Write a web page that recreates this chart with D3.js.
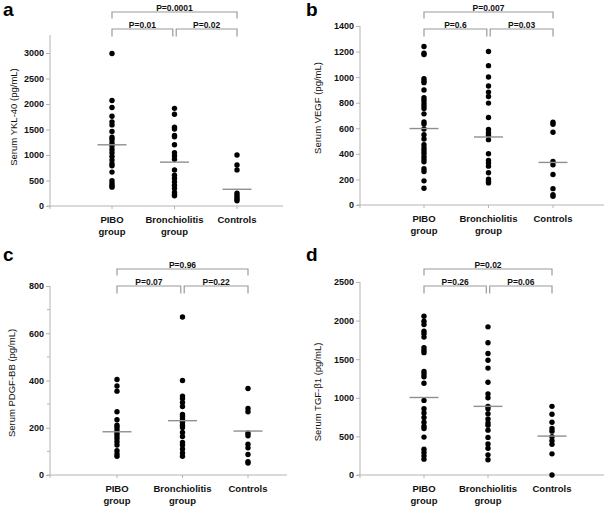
<!DOCTYPE html>
<html>
<head>
<meta charset="utf-8">
<script src="https://cdn.jsdelivr.net/npm/d3@7"></script>
<style>
  body { margin: 0; background: #fff; }
  svg { display: block; font-family: Arial, "Liberation Sans", sans-serif; }
</style>
</head>
<body>
<svg id="chart" width="609" height="512"></svg>
<script>
  const categories = ['PIBO group', 'Bronchiolitis group', 'Controls'];

  // a: YKL-40
  const yklPibo = [2990, 2070, 1930, 1760, 1650, 1590, 1460, 1350, 1305, 1240, 1175, 1110, 1045, 970, 900, 830, 790, 665, 495, 440, 400, 370];
  const yklBronch = [1915, 1800, 1545, 1510, 1383, 1357, 1200, 1045, 980, 915, 708, 604, 540, 474, 409, 344, 266, 227, 201];
  const yklControls = [1000, 805, 708, 253, 214, 175, 136, 104];
  const yklMeans = [1200, 860, 328];
  const yklTicks = [0, 500, 1000, 1500, 2000, 2500, 3000];
  const yklP = ['P=0.0001', 'P=0.01', 'P=0.02'];

  // b: VEGF
  const vegfPibo = [1240, 1187, 1177, 988, 970, 957, 899, 839, 820, 797, 776, 755, 713, 650, 634, 595, 550, 516, 472, 446, 425, 404, 380, 359, 338, 283, 262, 189, 131];
  const vegfBronch = [1200, 1090, 1001, 931, 883, 849, 797, 684, 590, 566, 545, 511, 401, 349, 328, 304, 252, 202, 183, 173];
  const vegfControls = [647, 632, 569, 341, 315, 238, 128, 80, 68];
  const vegfMeans = [598, 532, 333];
  const vegfTicks = [0, 200, 400, 600, 800, 1000, 1200, 1400];
  const vegfP = ['P=0.007', 'P=0.6', 'P=0.03'];

  // c: PDGF-BB
  const pdgfPibo = [404, 377, 355, 268, 234, 211, 201, 190, 177, 166, 155, 141, 127, 103, 89, 79];
  const pdgfBronch = [669, 400, 334, 324, 307, 290, 256, 248, 237, 223, 211, 201, 180, 163, 138, 127, 110, 93, 79];
  const pdgfControls = [366, 282, 268, 177, 166, 130, 115, 87, 56, 51];
  const pdgfMeans = [183, 230, 186];
  const pdgfTicks = [0, 200, 400, 600, 800];
  const pdgfMinorTicks = [100, 300, 500, 700];
  const pdgfP = ['P=0.96', 'P=0.07', 'P=0.22'];

  // d: TGF-beta1
  const tgfPibo = [2056, 1991, 1949, 1863, 1829, 1786, 1650, 1615, 1585, 1342, 1308, 1273, 1188, 966, 859, 803, 744, 684, 632, 603, 491, 333, 291, 248, 205];
  const tgfBronch = [1919, 1714, 1573, 1487, 1385, 1201, 1051, 1000, 889, 859, 795, 726, 675, 645, 581, 487, 402, 346, 261, 197];
  const tgfControls = [889, 786, 684, 603, 568, 496, 444, 397, 274, 0];
  const tgfMeans = [1004, 889, 504];
  const tgfTicks = [0, 500, 1000, 1500, 2000, 2500];
  const tgfP = ['P=0.02', 'P=0.26', 'P=0.06'];

  const AXIS_COLOR = '#b4b4b4';
  const BRACKET_COLOR = '#9a9a9a';
  const MEAN_COLOR = '#8f8f8f';
  const TEXT_COLOR = '#111';
  const DOT_RADIUS = 2.7;

  const svg = d3.select('#chart');

  drawPanel({
    letter: 'a', letterX: 3, letterY: 16,
    title: 'Serum YKL-40 (pg/mL)', titleX: 13, titleY: 117,
    groups: [yklPibo, yklBronch, yklControls], means: yklMeans,
    ticks: yklTicks, minorTicks: [], yMax: 3000, axisTopY: 35,
    left: 50, right: 283, top: 53, bottom: 206,
    catX: [112, 237], bracketY: 12, pLabels: yklP
  });

  drawPanel({
    letter: 'b', letterX: 306, letterY: 16,
    title: 'Serum VEGF (pg/mL)', titleX: 317, titleY: 108,
    groups: [vegfPibo, vegfBronch, vegfControls], means: vegfMeans,
    ticks: vegfTicks, minorTicks: [], yMax: 1400, axisTopY: 26,
    left: 360, right: 604, top: 26, bottom: 205,
    catX: [424, 553], bracketY: 12, pLabels: vegfP
  });

  drawPanel({
    letter: 'c', letterX: 3, letterY: 261,
    title: 'Serum PDGF-BB (pg/mL)', titleX: 11, titleY: 383,
    groups: [pdgfPibo, pdgfBronch, pdgfControls], means: pdgfMeans,
    ticks: pdgfTicks, minorTicks: pdgfMinorTicks, yMax: 800, axisTopY: 286,
    left: 50, right: 287, top: 286, bottom: 475,
    catX: [117, 248], bracketY: 269, pLabels: pdgfP
  });

  drawPanel({
    letter: 'd', letterX: 306, letterY: 261,
    title: 'Serum TGF-\u03b21 (pg/mL)', titleX: 317, titleY: 392,
    groups: [tgfPibo, tgfBronch, tgfControls], means: tgfMeans,
    ticks: tgfTicks, minorTicks: [], yMax: 2500, axisTopY: 282,
    left: 360, right: 604, top: 282, bottom: 475,
    catX: [424, 552], bracketY: 269, pLabels: tgfP
  });

  function drawPanel(p) {
    const g = svg.append('g');

    const x = d3.scalePoint()
      .domain(categories)
      .range(p.catX);

    const y = d3.scaleLinear()
      .domain([0, p.yMax])
      .range([p.bottom, p.top]);

    // y axis
    const yAxis = g.append('g')
      .attr('transform', `translate(${p.left},0)`)
      .call(d3.axisLeft(y).tickValues(p.ticks).tickFormat(d3.format('d')).tickSize(4).tickPadding(2));
    yAxis.select('.domain').remove();
    yAxis.selectAll('line').attr('stroke', AXIS_COLOR);
    yAxis.selectAll('text')
      .attr('fill', TEXT_COLOR)
      .attr('font-size', 9)
      .attr('font-weight', 'bold')
      .attr('font-family', 'Arial, "Liberation Sans", sans-serif');

    g.append('line')
      .attr('x1', p.left).attr('x2', p.left)
      .attr('y1', p.axisTopY).attr('y2', p.bottom + 3)
      .attr('stroke', AXIS_COLOR);

    g.selectAll('.minor')
      .data(p.minorTicks)
      .join('line')
      .attr('x1', p.left - 3).attr('x2', p.left)
      .attr('y1', d => y(d)).attr('y2', d => y(d))
      .attr('stroke', AXIS_COLOR);

    // x axis
    g.append('line')
      .attr('x1', p.left - 3).attr('x2', p.right)
      .attr('y1', p.bottom).attr('y2', p.bottom)
      .attr('stroke', AXIS_COLOR);

    g.selectAll('.xtick')
      .data(categories)
      .join('line')
      .attr('x1', d => x(d)).attr('x2', d => x(d))
      .attr('y1', p.bottom).attr('y2', p.bottom + 3)
      .attr('stroke', AXIS_COLOR);

    const labels = g.selectAll('.xlabel')
      .data(categories)
      .join('text')
      .attr('text-anchor', 'middle')
      .attr('fill', TEXT_COLOR)
      .attr('font-size', 9.5)
      .attr('font-weight', 'bold');
    labels.each(function (d) {
      const parts = d.split(' ');
      const t = d3.select(this);
      parts.forEach((part, i) => {
        t.append('tspan')
          .attr('x', x(d))
          .attr('y', p.bottom + 17 + i * 12)
          .text(part);
      });
    });

    // y title
    g.append('text')
      .attr('transform', `translate(${p.titleX},${p.titleY}) rotate(-90)`)
      .attr('text-anchor', 'middle')
      .attr('dominant-baseline', 'central')
      .attr('fill', TEXT_COLOR)
      .attr('font-size', 9.5)
      .text(p.title);

    // panel letter
    g.append('text')
      .attr('x', p.letterX)
      .attr('y', p.letterY)
      .attr('fill', '#000')
      .attr('font-size', 19)
      .attr('font-weight', 'bold')
      .text(p.letter);

    // dots
    p.groups.forEach((values, i) => {
      g.selectAll(null)
        .data(values)
        .join('circle')
        .attr('cx', x(categories[i]))
        .attr('cy', d => y(d))
        .attr('r', DOT_RADIUS)
        .attr('fill', '#000');
    });

    // mean lines
    g.selectAll('.mean')
      .data(p.means)
      .join('line')
      .attr('x1', (d, i) => x(categories[i]) - 14.5)
      .attr('x2', (d, i) => x(categories[i]) + 14.5)
      .attr('y1', d => y(d)).attr('y2', d => y(d))
      .attr('stroke', MEAN_COLOR)
      .attr('stroke-width', 1.4);

    // significance brackets
    const x0 = x(categories[0]);
    const x1 = x(categories[1]);
    const x2 = x(categories[2]);
    const lowY = p.bracketY + 17;
    drawBracket(g, x0, x2, p.bracketY, 6.5, p.pLabels[0]);
    drawBracket(g, x0, x1 - 1.7, lowY, 7.5, p.pLabels[1]);
    drawBracket(g, x1 + 1.7, x2, lowY, 7.5, p.pLabels[2]);
  }

  function drawBracket(g, xa, xb, yTop, drop, label) {
    g.append('path')
      .attr('d', `M${xa},${yTop + drop}V${yTop}H${xb}V${yTop + drop}`)
      .attr('fill', 'none')
      .attr('stroke', BRACKET_COLOR)
      .attr('stroke-width', 1.2);

    g.append('text')
      .attr('x', (xa + xb) / 2)
      .attr('y', yTop - 1.5)
      .attr('text-anchor', 'middle')
      .attr('fill', TEXT_COLOR)
      .attr('font-size', 8.5)
      .attr('font-weight', 'bold')
      .text(label);
  }
</script>
</body>
</html>
